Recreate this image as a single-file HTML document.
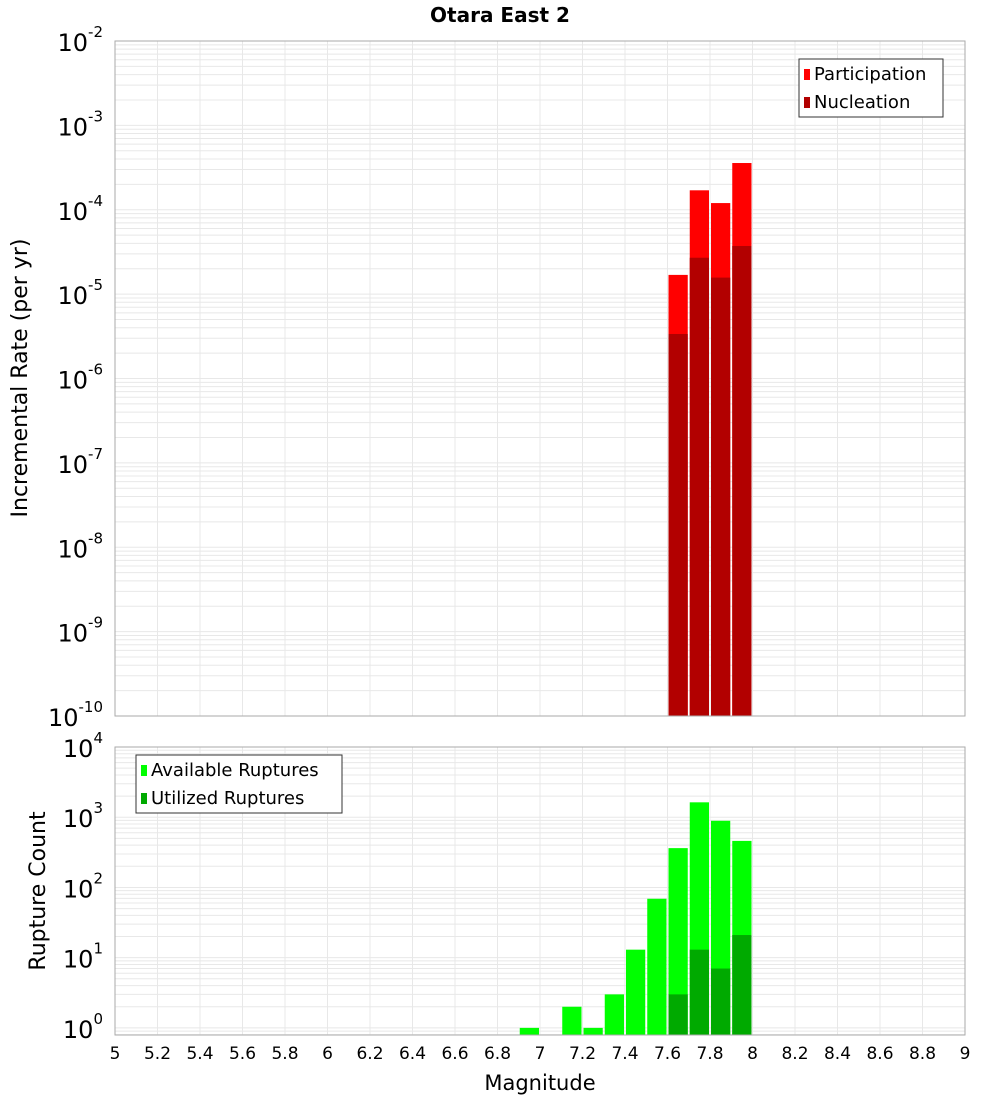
<!DOCTYPE html>
<html><head><meta charset="utf-8"><style>
body{margin:0;background:#fff;font-family:"DejaVu Sans","Liberation Sans",sans-serif}
svg text{font-family:"DejaVu Sans","Liberation Sans",sans-serif}
</style></head><body>
<svg id="c" width="1000" height="1100" xmlns="http://www.w3.org/2000/svg">
<text x="500" y="22" text-anchor="middle" font-size="20" font-weight="bold">Otara East 2</text>
<text x="540" y="1090" text-anchor="middle" font-size="21">Magnitude</text>
<text transform="translate(27,378) rotate(-90)" text-anchor="middle" font-size="22">Incremental Rate (per yr)</text>
<text transform="translate(45,891) rotate(-90)" text-anchor="middle" font-size="22">Rupture Count</text>
</svg>
<script>
// ---- data ----
const rateMags = [7.65, 7.75, 7.85, 7.95];
const participation = [1.69e-5, 1.70e-4, 1.2e-4, 3.58e-4];
const nucleation = [3.37e-6, 2.7e-5, 1.57e-5, 3.72e-5];
const countMags = [6.95, 7.15, 7.25, 7.35, 7.45, 7.55, 7.65, 7.75, 7.85, 7.95];
const available = [1, 2, 1, 3, 13, 69, 363, 1630, 890, 460];
const utilized = [0, 0, 0, 0, 0, 0, 3, 13, 7, 21];
const xTicks = [5,5.2,5.4,5.6,5.8,6,6.2,6.4,6.6,6.8,7,7.2,7.4,7.6,7.8,8,8.2,8.4,8.6,8.8,9];
const topExps = [-2,-3,-4,-5,-6,-7,-8,-9,-10];
const botExps = [4,3,2,1,0];

const NS="http://www.w3.org/2000/svg";
const svg=document.getElementById('c');
function mk(tag,attrs,parent){const e=document.createElementNS(NS,tag);for(const k in attrs)e.setAttribute(k,attrs[k]);(parent||svg).appendChild(e);return e;}
const X0=115,X1=965;
const xs=m=>X0+(m-5)/4*(X1-X0);
const topP={y0:41,y1:716,lmin:-10,lmax:-2};
const botP={y0:747,y1:1035,lmin:Math.log10(0.792),lmax:4};
const ys=(p,v)=>p.y1-(Math.log10(v)-p.lmin)/(p.lmax-p.lmin)*(p.y1-p.y0);

function grid(p,name){
  const g=mk('g',{});
  
  
  for(let d=Math.floor(p.lmin);d<p.lmax;d++){for(let k=1;k<10;k++){const v=k*Math.pow(10,d);const l=Math.log10(v);if(l<p.lmin||l>p.lmax)continue;const y=ys(p,v);mk('line',{x1:X0,x2:X1,y1:y,y2:y,stroke:'#e8e8e8','stroke-width':1},g);}}
  xTicks.forEach(t=>{const x=xs(t);mk('line',{x1:x,x2:x,y1:p.y0,y2:p.y1,stroke:'#e8e8e8','stroke-width':1},g);});
}
grid(topP,'top');grid(botP,'bottom');

function bars(p,mags,vals,color,name){
  mags.forEach((m,i)=>{if(!(vals[i]>0))return;const x=xs(m-0.05)+1,w=xs(m+0.05)-xs(m-0.05)-2;const y=ys(p,vals[i]);
    const r=mk('rect',{x:x,y:y,width:w,height:p.y1-y,fill:color});
    
    });
}
bars(topP,rateMags,participation,'#ff0000','participation');
bars(topP,rateMags,nucleation,'#b20000','nucleation');
bars(botP,countMags,available,'#00ff00','available');
bars(botP,countMags,utilized,'#00aa00','utilized');

[topP,botP].forEach(p=>mk('rect',{x:X0,y:p.y0,width:X1-X0,height:p.y1-p.y0,fill:'none',stroke:'#aaa','stroke-width':1}));

function ylabels(p,exps,name){
  exps.forEach(e=>{const y=ys(p,Math.pow(10,e));
    const t=mk('text',{x:103,y:y+10,'text-anchor':'end','font-size':24});
    
    
    t.appendChild(document.createTextNode('10'));
    const s=mk('tspan',{dy:-14,'font-size':15},t);s.textContent=String(e);});
}
ylabels(topP,topExps,'top-y');ylabels(botP,botExps,'bottom-y');

xTicks.forEach(t=>{const el=mk('text',{x:xs(t),y:1059,'text-anchor':'middle','font-size':17});
  
  
  el.textContent=String(t);});

function legend(x,y,w,items,name){
  const g=mk('g',{});
  
  
  mk('rect',{x:x,y:y,width:w,height:58,fill:'#fff',stroke:'#333','stroke-width':1},g);
  items.forEach((it,i)=>{const cy=y+15+i*28;mk('rect',{x:x+5,y:cy-5,width:6,height:11,fill:it[1]},g);
    const t=mk('text',{x:x+15,y:cy+6,'font-size':18},g);t.textContent=it[0];});
}
legend(799,59,144,[['Participation','#ff0000'],['Nucleation','#b20000']],'top-legend');
legend(136,755,206,[['Available Ruptures','#00ff00'],['Utilized Ruptures','#00aa00']],'bottom-legend');
</script>
</body></html>
